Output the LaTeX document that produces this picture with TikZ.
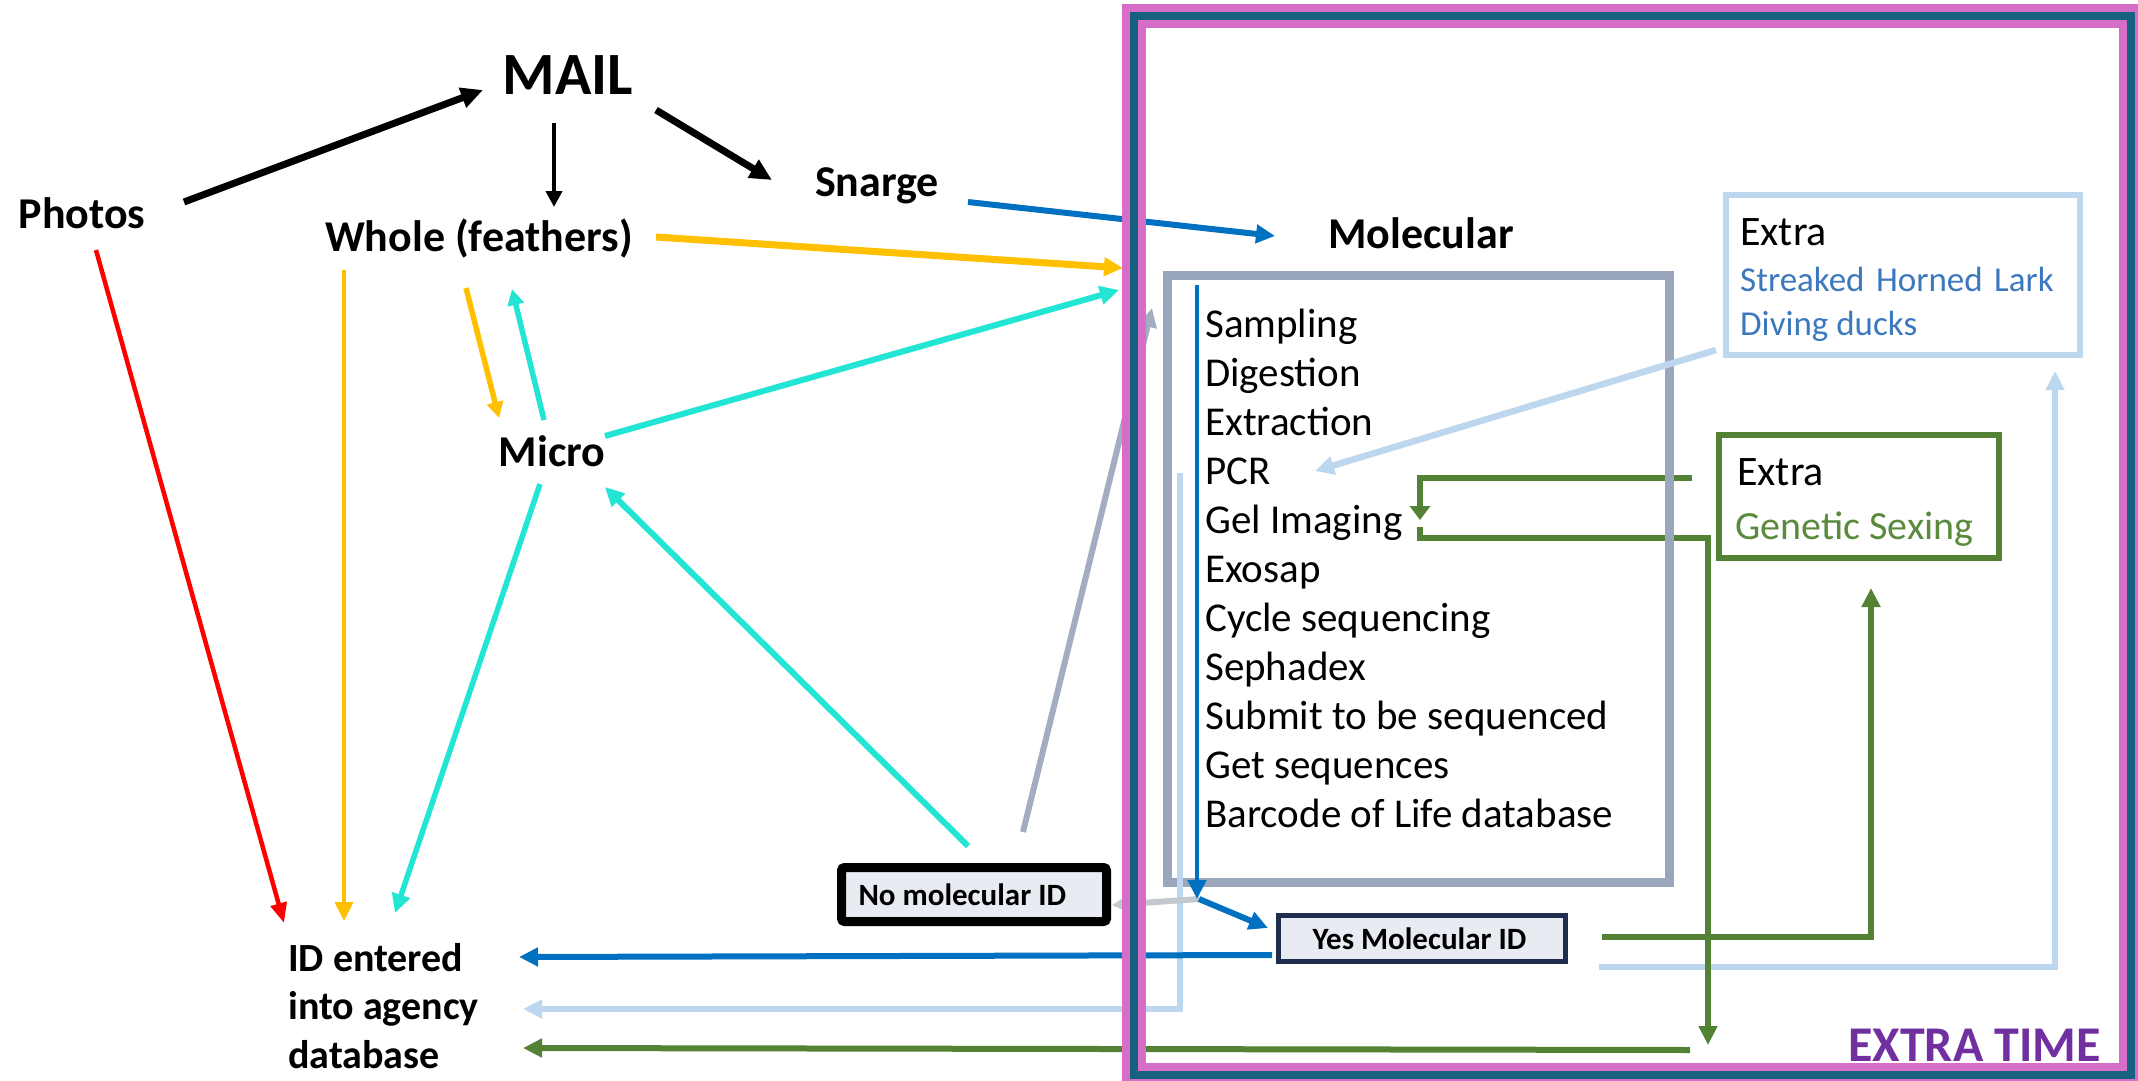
\documentclass[tikz,border=0pt]{standalone}
\usepackage{fontspec}
\setmainfont{Carlito}
\usetikzlibrary{arrows.meta}
\definecolor{framepink}{HTML}{D66EC8}
\definecolor{frameteal}{HTML}{17607F}
\definecolor{molgrey}{HTML}{9AA6BB}
\definecolor{lblue}{HTML}{BDD7EE}
\definecolor{dblue}{HTML}{0070C0}
\definecolor{dgreen}{HTML}{548235}
\definecolor{gold}{HTML}{FFC000}
\definecolor{turq}{HTML}{22E5D3}
\definecolor{purp}{HTML}{7030A0}
\definecolor{boxfill}{HTML}{E9EBF2}
\definecolor{navy}{HTML}{1F2D4E}
\definecolor{txtblue}{HTML}{3C78BE}
\definecolor{txtgreen}{HTML}{5A8A3C}
\definecolor{greyarrow}{HTML}{A3ACC0}
\definecolor{lgrey}{HTML}{C3C7CF}
\begin{document}
\begin{tikzpicture}[x=1pt,y=-1pt,
  every node/.style={inner sep=0pt},
  lbl/.style={font=\fontsize{44}{52}\selectfont\bfseries, anchor=base},
  idtxt/.style={font=\fontsize{40}{48}\selectfont\bfseries, anchor=base west},
  steptxt/.style={font=\fontsize{41}{49}\selectfont, anchor=base west},
  extrahead/.style={font=\fontsize{42}{50}\selectfont, anchor=base west},
  bigtip/.style={-{Triangle[length=22pt,width=20pt]}},
  midtip/.style={-{Triangle[length=19pt,width=18pt]}},
  smalltip/.style={-{Triangle[length=16pt,width=16pt]}},
  wire/.style={line width=6pt, line join=miter},
]
\useasboundingbox (0,0) rectangle (2138,1081);
\fill[white] (0,0) rectangle (2138,1081);

% ---------- text nodes ----------
\node[lbl, font=\fontsize{60}{70}\selectfont\bfseries] (mail) at (568,94.6) {MAIL};
\node[lbl] (photos) at (82,228) {Photos};
\node[lbl] (whole) at (479,251) {Whole (feathers)};
\node[lbl] (snarge) at (877,196) {Snarge};
\node[lbl] (micro) at (552,466) {Micro};
\node[lbl] (molecular) at (1421,248) {Molecular};
\node[idtxt] (id1) at (288,971) {ID entered};
\node[idtxt] (id2) at (288,1019.5) {into agency};
\node[idtxt] (id3) at (288,1068) {database};

% ---------- connector end points ----------
\coordinate (phmailS) at (184,202);  \coordinate (phmailE) at (483,90);
\coordinate (mailwhS) at (554,123);  \coordinate (mailwhE) at (554,207);
\coordinate (mailsnS) at (656,110);  \coordinate (mailsnE) at (772,180);
\coordinate (snmolS) at (968,202);   \coordinate (snmolE) at (1275,236);
\coordinate (whmolS) at (656,237);   \coordinate (whmolE) at (1123,268);
\coordinate (whmiS) at (466,288);    \coordinate (whmiE) at (499,418);
\coordinate (miwhS) at (544,420);    \coordinate (miwhE) at (512,289);
\coordinate (mimolS) at (605,436);   \coordinate (mimolE) at (1119,290);
\coordinate (whidS) at (344,270);    \coordinate (whidE) at (344,921);
\coordinate (phidS) at (96,250);     \coordinate (phidE) at (284,923);
\coordinate (miidS) at (540,484);    \coordinate (miidE) at (395,913);
\coordinate (nomiS) at (968,846);    \coordinate (nomiE) at (605,487);
\coordinate (nomolS) at (1023,832);  \coordinate (nomolE) at (1152,308);
\coordinate (flowS) at (1197,285);   \coordinate (flowE) at (1197,899);
\coordinate (split) at (1199,899);   \coordinate (yesIn) at (1268,928);
\coordinate (noIn) at (1112,905);
\coordinate (yesidS) at (1272,955);  \coordinate (yesidE) at (519,957);
\coordinate (lbS) at (1180,473);     \coordinate (lbC) at (1180,1009);  \coordinate (lbE) at (523,1009);
\coordinate (gbS) at (1690,1050);    \coordinate (gbE) at (523,1048);
\coordinate (gin1) at (1692,478);    \coordinate (gin2) at (1420,478);  \coordinate (gin3) at (1420,520);
\coordinate (gout1) at (1420,527);   \coordinate (gout2) at (1420,538); \coordinate (gout3) at (1708,538); \coordinate (gout4) at (1708,1045);
\coordinate (gy1) at (1602,937);     \coordinate (gy2) at (1871,937);   \coordinate (gy3) at (1871,588);
\coordinate (ly1) at (1599,967);     \coordinate (ly2) at (2055,967);   \coordinate (ly3) at (2055,371);
\coordinate (lpS) at (1716,350);     \coordinate (lpE) at (1315,471);

% ---------- left connectors ----------
\draw[black, line width=7pt, bigtip] (phmailS) -- (phmailE);
\draw[black, line width=4.5pt, smalltip] (mailwhS) -- (mailwhE);
\draw[black, line width=7pt, bigtip] (mailsnS) -- (mailsnE);
\draw[dblue, wire, midtip] (snmolS) -- (snmolE);
\draw[gold, line width=7pt, midtip] (whmolS) -- (whmolE);
\draw[gold, line width=5.5pt, smalltip] (whmiS) -- (whmiE);
\draw[turq, line width=5.5pt, smalltip] (miwhS) -- (miwhE);
\draw[turq, wire, midtip] (mimolS) -- (mimolE);
\draw[gold, line width=4pt, midtip] (whidS) -- (whidE);
\draw[red, line width=4.5pt, -{Triangle[length=20pt,width=16pt]}] (phidS) -- (phidE);
\draw[turq, line width=5.5pt, midtip] (miidS) -- (miidE);
\draw[turq, wire, midtip] (nomiS) -- (nomiE);
\draw[greyarrow, wire, midtip] (nomolS) -- (nomolE);

% ---------- lines under the molecular box ----------
\draw[lblue, line width=6.5pt, midtip] (ly1) -- (ly2) -- (ly3);
\draw[dgreen, wire, midtip] (gy1) -- (gy2) -- (gy3);
\draw[dgreen, wire, -{Triangle[length=14pt,width=20pt]}] (gin1) -- (gin2) -- (gin3);
\draw[dgreen, wire, midtip] (gout1) -- (gout2) -- (gout3) -- (gout4);
\draw[dgreen, wire, midtip] (gbS) -- (gbE);

% ---------- molecular box ----------
\node[draw=molgrey, line width=9pt, minimum width=502.5pt, minimum height=606.5pt] (molbox) at (1418.25,578.75) {};
\foreach \t [count=\i] in {Sampling, Digestion, Extraction, PCR, Gel Imaging, Exosap, Cycle sequencing, Sephadex, Submit to be sequenced, Get sequences, Barcode of Life database}
  \node[steptxt] (s\i) at (1205,{337.5+49*(\i-1)}) {\t};

% ---------- lines over the molecular box ----------
\draw[lblue, line width=6.5pt, midtip] (lpS) -- (lpE);
\draw[lblue, line width=6.5pt, midtip] (lbS) -- (lbC) -- (lbE);
\draw[lgrey, wire, smalltip] (split) -- (noIn);
\draw[dblue, line width=4.5pt, midtip] (flowS) -- (flowE);
\draw[dblue, wire, midtip] (split) -- (yesIn);
\draw[dblue, wire, midtip] (yesidS) -- (yesidE);

% ---------- boxes ----------
\node[draw=black, line width=9pt, fill=boxfill, rounded corners=3pt, minimum height=54pt, inner xsep=17pt,
      font=\fontsize{31}{37}\selectfont\bfseries] (nomol) at (974,894.5) {\makebox[231pt][l]{No molecular ID}};
\node[draw=navy, line width=5pt, fill=boxfill, minimum height=46pt, inner xsep=34pt,
      font=\fontsize{31}{37}\selectfont\bfseries] (yesmol) at (1422,938.5) {\makebox[219pt][l]{Yes Molecular ID}};

\node[draw=lblue, line width=6pt, minimum width=353.5pt, minimum height=160pt] (extra1) at (1902.75,275) {};
\node[extrahead] (e1h) at (1740,245.7) {Extra};
\node[font=\fontsize{35}{42}\selectfont, text=txtblue, anchor=base west] (e1a) at (1740,291) {Streaked\hspace{11.5pt}Horned\hspace{11.5pt}Lark};
\node[font=\fontsize{35}{42}\selectfont, text=txtblue, anchor=base west] (e1b) at (1740,335.7) {Diving ducks};

\node[draw=dgreen, line width=6pt, minimum width=279.5pt, minimum height=123pt] (extra2) at (1858.75,496.5) {};
\node[extrahead] (e2h) at (1737,485.7) {Extra};
\node[font=\fontsize{40}{48}\selectfont, text=txtgreen, anchor=base west] (e2a) at (1735,539) {Genetic Sexing};

% ---------- frame ----------
\draw[framepink, line width=8pt] (1126,8) rectangle (2139,1083);
\draw[frameteal, line width=8pt] (1134,16) rectangle (2131,1075);
\draw[framepink, line width=8pt] (1142,24) rectangle (2123,1067);
\node[anchor=base east, font=\fontsize{50}{60}\selectfont\bfseries, text=purp] (extratime) at (2101,1061) {EXTRA TIME};
\end{tikzpicture}
\end{document}
